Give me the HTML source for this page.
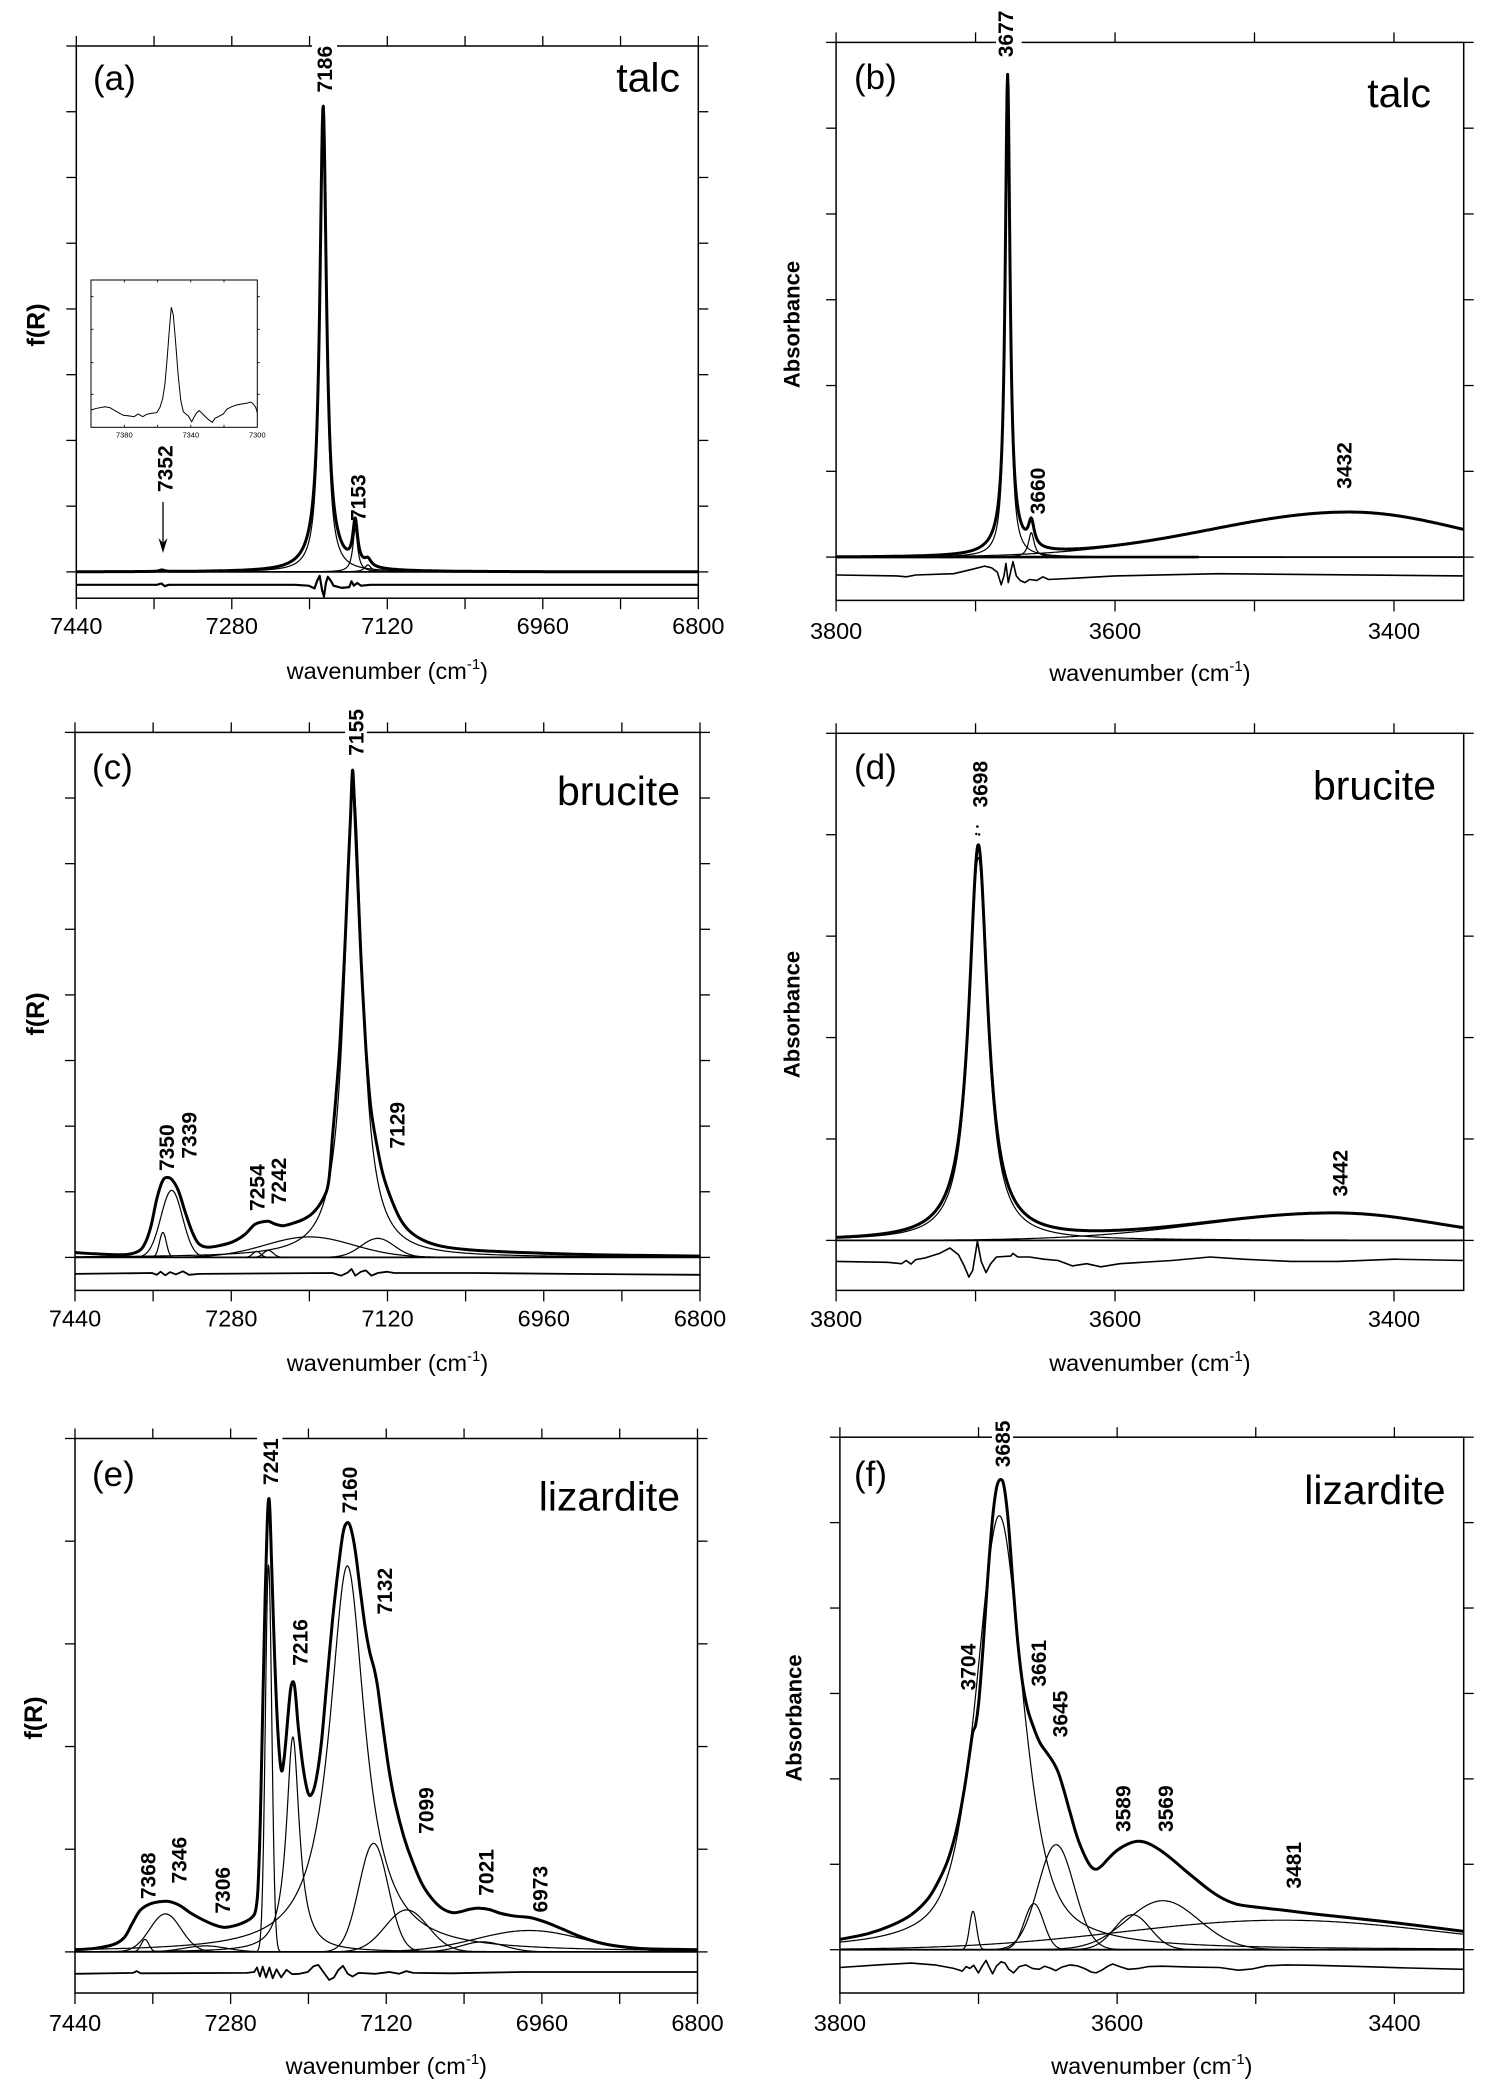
<!DOCTYPE html>
<html><head><meta charset="utf-8">
<style>
html,body{margin:0;padding:0;background:#fff;}
svg{display:block;}
text{font-family:"Liberation Sans",Arial,sans-serif;fill:#000;}
.tl{font-size:23.5px;}
.pk{font-size:21px;font-weight:bold;}
.yt{font-size:22px;font-weight:bold;}
.yf{font-size:25px;font-weight:bold;}
.pl{font-size:35px;}
.nm{font-size:41px;}
.it{font-size:7.5px;}
</style></head><body>
<svg id="s" width="1489" height="2097" viewBox="0 0 1489 2097" xmlns="http://www.w3.org/2000/svg">
<rect width="1489" height="2097" fill="#fff"/>
<g id="g" fill="none" stroke="#000" stroke-linecap="butt"></g>

<!-- inset in (a) -->
<g fill="none" stroke="#000">
<rect x="91" y="280" width="166.3" height="147.3" stroke-width="1"/>
<path id="inset" stroke-width="1" d=""/>
<path stroke-width="0.8" d="M124.3,280v2.5M157.5,280v2.5M190.8,280v2.5M224,280v2.5M124.3,427.3v-2.5M157.5,427.3v-2.5M190.8,427.3v-2.5M224,427.3v-2.5M91,296.7h2.5M91,329.3h2.5M91,362.7h2.5M91,394.3h2.5M257.3,296.7h2.5M257.3,329.3h2.5M257.3,362.7h2.5M257.3,394.3h2.5"/>
<line x1="163" y1="502" x2="163" y2="545" stroke-width="1.3"/>
</g>
<path d="M158.5,538 L163,553 L167.5,538 L163,543 Z" fill="#000"/>
<text class="it" x="124.3" y="437.3" text-anchor="middle">7380</text>
<text class="it" x="190.8" y="437.3" text-anchor="middle">7340</text>
<text class="it" x="257.3" y="437.3" text-anchor="middle">7300</text>

<!-- white backgrounds behind top labels -->
<g fill="#fff">
<rect x="312" y="36" width="25" height="58"/>
<rect x="996" y="10" width="25.7" height="48"/>
<rect x="345" y="708" width="22" height="49"/>
<rect x="257" y="1437" width="25.5" height="49"/>
<rect x="992" y="1420" width="21" height="48"/>
</g>

<!-- tick labels -->
<g class="tl" text-anchor="middle">
<text x="76.3" y="634">7440</text><text x="231.8" y="634">7280</text><text x="387.3" y="634">7120</text><text x="542.8" y="634">6960</text><text x="698.3" y="634">6800</text>
<text x="836.1" y="639">3800</text><text x="1115" y="639">3600</text><text x="1394" y="639">3400</text>
<text x="75" y="1326.5">7440</text><text x="231.3" y="1326.5">7280</text><text x="387.5" y="1326.5">7120</text><text x="543.8" y="1326.5">6960</text><text x="700" y="1326.5">6800</text>
<text x="836.1" y="1327">3800</text><text x="1115" y="1327">3600</text><text x="1394" y="1327">3400</text>
<text x="75" y="2031">7440</text><text x="230.6" y="2031">7280</text><text x="386.3" y="2031">7120</text><text x="541.9" y="2031">6960</text><text x="697.5" y="2031">6800</text>
<text x="839.9" y="2031">3800</text><text x="1117.1" y="2031">3600</text><text x="1394.4" y="2031">3400</text>
</g>
<!-- x titles -->
<g class="tl" text-anchor="middle">
<text x="387.3" y="679">wavenumber (cm<tspan dy="-10" font-size="15">-1</tspan><tspan dy="10">)</tspan></text>
<text x="1149.9" y="681">wavenumber (cm<tspan dy="-10" font-size="15">-1</tspan><tspan dy="10">)</tspan></text>
<text x="387.5" y="1371">wavenumber (cm<tspan dy="-10" font-size="15">-1</tspan><tspan dy="10">)</tspan></text>
<text x="1149.9" y="1371">wavenumber (cm<tspan dy="-10" font-size="15">-1</tspan><tspan dy="10">)</tspan></text>
<text x="386.3" y="2074">wavenumber (cm<tspan dy="-10" font-size="15">-1</tspan><tspan dy="10">)</tspan></text>
<text x="1151.8" y="2074">wavenumber (cm<tspan dy="-10" font-size="15">-1</tspan><tspan dy="10">)</tspan></text>
</g>
<!-- y titles -->
<g class="yf" text-anchor="middle">
<text transform="translate(35.5,325) rotate(-90)" dy="0.36em">f(R)</text>
<text transform="translate(35,1014) rotate(-90)" dy="0.36em">f(R)</text>
<text transform="translate(33,1718) rotate(-90)" dy="0.36em">f(R)</text>
</g>
<g class="yt" text-anchor="middle">
<text transform="translate(791.5,324.5) rotate(-90)" dy="0.36em">Absorbance</text>
<text transform="translate(791.5,1014.5) rotate(-90)" dy="0.36em">Absorbance</text>
<text transform="translate(793.5,1718) rotate(-90)" dy="0.36em">Absorbance</text>
</g>
<!-- panel letters -->
<g class="pl">
<text x="93" y="90">(a)</text>
<text x="854" y="89">(b)</text>
<text x="92" y="779">(c)</text>
<text x="854" y="779">(d)</text>
<text x="92" y="1486">(e)</text>
<text x="854" y="1486">(f)</text>
</g>
<!-- names -->
<g class="nm" text-anchor="end">
<text x="680" y="91.5">talc</text>
<text x="1431" y="107">talc</text>
<text x="680" y="805">brucite</text>
<text x="1436" y="799.5">brucite</text>
<text x="680" y="1510.5">lizardite</text>
<text x="1445.5" y="1504">lizardite</text>
</g>
<!-- peak labels -->
<g class="pk" text-anchor="middle">
<text transform="translate(324.3,69.2) rotate(-90)" dy="0.36em">7186</text>
<text transform="translate(357.9,497.7) rotate(-90)" dy="0.36em">7153</text>
<text transform="translate(165,468.7) rotate(-90)" dy="0.36em">7352</text>

<text transform="translate(1005.5,33.9) rotate(-90)" dy="0.36em">3677</text>
<text transform="translate(1037.5,491) rotate(-90)" dy="0.36em">3660</text>
<text transform="translate(1343.8,465.5) rotate(-90)" dy="0.36em">3432</text>

<text transform="translate(355.8,732.4) rotate(-90)" dy="0.36em">7155</text>
<text transform="translate(166.5,1147.7) rotate(-90)" dy="0.36em">7350</text>
<text transform="translate(188.8,1135.3) rotate(-90)" dy="0.36em">7339</text>
<text transform="translate(256.8,1187.7) rotate(-90)" dy="0.36em">7254</text>
<text transform="translate(278.2,1181) rotate(-90)" dy="0.36em">7242</text>
<text transform="translate(396.7,1125.3) rotate(-90)" dy="0.36em">7129</text>

<text transform="translate(979.9,784.2) rotate(-90)" dy="0.36em">3698</text>
<text transform="translate(1339.7,1173.3) rotate(-90)" dy="0.36em">3442</text>

<text transform="translate(270.3,1461.7) rotate(-90)" dy="0.36em">7241</text>
<text transform="translate(349.5,1490) rotate(-90)" dy="0.36em">7160</text>
<text transform="translate(384.3,1591.2) rotate(-90)" dy="0.36em">7132</text>
<text transform="translate(299.8,1642.4) rotate(-90)" dy="0.36em">7216</text>
<text transform="translate(425.9,1810.5) rotate(-90)" dy="0.36em">7099</text>
<text transform="translate(147.8,1875.8) rotate(-90)" dy="0.36em">7368</text>
<text transform="translate(178.8,1860.2) rotate(-90)" dy="0.36em">7346</text>
<text transform="translate(222.3,1890.3) rotate(-90)" dy="0.36em">7306</text>
<text transform="translate(486,1872.4) rotate(-90)" dy="0.36em">7021</text>
<text transform="translate(539.9,1889.2) rotate(-90)" dy="0.36em">6973</text>

<text transform="translate(1002.3,1443.9) rotate(-90)" dy="0.36em">3685</text>
<text transform="translate(967.9,1667.1) rotate(-90)" dy="0.36em">3704</text>
<text transform="translate(1038.4,1663.3) rotate(-90)" dy="0.36em">3661</text>
<text transform="translate(1060,1714) rotate(-90)" dy="0.36em">3645</text>
<text transform="translate(1122.8,1808.7) rotate(-90)" dy="0.36em">3589</text>
<text transform="translate(1165.5,1808.7) rotate(-90)" dy="0.36em">3569</text>
<text transform="translate(1293.6,1865.3) rotate(-90)" dy="0.36em">3481</text>
</g>
<g fill="#000">
<circle cx="977.4" cy="826.5" r="1.3"/><circle cx="976.3" cy="834" r="1.2"/><circle cx="979.2" cy="834.5" r="1.2"/>
</g>
</svg>
<script>
(function(){
var NS='http://www.w3.org/2000/svg';
var G=document.getElementById('g');
function add(tag,a){var e=document.createElementNS(NS,tag);for(var k in a)e.setAttribute(k,a[k]);G.appendChild(e);return e;}
function line(x1,y1,x2,y2,w){add('line',{x1:x1,y1:y1,x2:x2,y2:y2,'stroke-width':w||1.3});}
var P={
a:{L:76.3,R:698.3,T:46,B:598.2,base:571.9,w0:7440,w1:6800,ny:8,xt:80},
b:{L:836.1,R:1463.7,T:42.4,B:600.4,base:557.1,w0:3800,w1:3350,ny:6,xt:100},
c:{L:75,R:700,T:732.4,B:1290.4,base:1257.4,w0:7440,w1:6800,ny:8,xt:80},
d:{L:836.1,R:1463.7,T:733.3,B:1290.4,base:1240.4,w0:3800,w1:3350,ny:5,xt:100},
e:{L:75,R:697.5,T:1438.5,B:1993,base:1951.9,w0:7440,w1:6800,ny:5,xt:80},
f:{L:839.9,R:1463.7,T:1437.2,B:1993,base:1949.7,w0:3800,w1:3350,ny:6,xt:100}
};
function X(p,w){return p.L+(p.w0-w)*(p.R-p.L)/(p.w0-p.w1);}
for(var k in P){var p=P[k];
 add('rect',{x:p.L,y:p.T,width:p.R-p.L,height:p.B-p.T,'stroke-width':1.5});
 for(var i=0;i<=p.ny;i++){var y=p.T+(p.base-p.T)*i/p.ny;line(p.L-10,y,p.L,y);line(p.R,y,p.R+10,y);}
 for(var w=p.w0;w>=p.w1-0.01;w-=p.xt){var x=X(p,w);line(x,p.T-10,x,p.T);line(x,p.B,x,p.B+11);}
 line(p.L,p.base,p.R,p.base,1.8);
}
function Lo(A,c,g){return function(w){var t=(w-c)/g;return A/(1+t*t);};}
function Ga(A,c,s){return function(w){return A*Math.exp(-(w-c)*(w-c)/(2*s*s));};}
function GA(A,c,sl,sr){return function(w){var s=w>c?sl:sr;return A*Math.exp(-(w-c)*(w-c)/(2*s*s));};}
function PV(A,c,g,s,e){return function(w){var t=(w-c)/g;return A*(e/(1+t*t)+(1-e)*Math.exp(-(w-c)*(w-c)/(2*s*s)));};}
function sum(fs){return function(w){var a=0;for(var i=0;i<fs.length;i++)a+=fs[i](w);return a;};}
function fpath(p,f,sw){var d='';var n=Math.round((p.R-p.L)*2);for(var i=0;i<=n;i++){var x=p.L+i*(p.R-p.L)/n;var wn=p.w0-(x-p.L)*(p.w0-p.w1)/(p.R-p.L);var y=p.base-f(wn);d+=(i?'L':'M')+x.toFixed(1)+','+y.toFixed(1);}add('path',{d:d,'stroke-width':sw,'stroke-linejoin':'round'});}
function zp(arr,ox,oy,sx){return arr.map(function(a){return [ox+a[0]/sx,oy+a[1]/2.24];});}
function poly(pts,sw){add('path',{d:'M'+pts.map(function(q){return q[0].toFixed(1)+','+q[1].toFixed(1);}).join('L'),'stroke-width':sw,'stroke-linejoin':'round'});}
function smooth(pts,sw){var d='M'+pts[0][0].toFixed(1)+','+pts[0][1].toFixed(1);
 for(var i=0;i<pts.length-1;i++){var p0=pts[i-1]||pts[i],p1=pts[i],p2=pts[i+1],p3=pts[i+2]||pts[i+1];
 var c1x=p1[0]+(p2[0]-p0[0])/6,c1y=p1[1]+(p2[1]-p0[1])/6,c2x=p2[0]-(p3[0]-p1[0])/6,c2y=p2[1]-(p3[1]-p1[1])/6;
 d+='C'+c1x.toFixed(1)+','+c1y.toFixed(1)+' '+c2x.toFixed(1)+','+c2y.toFixed(1)+' '+p2[0].toFixed(1)+','+p2[1].toFixed(1);}
 add('path',{d:d,'stroke-width':sw,'stroke-linejoin':'round'});}
var TH=1.2,TK=3;

// (a)
var a=P.a;
var a1=Lo(440,7186,4),a2=Lo(43,7153,3),a3=Lo(7,7140,4);
[a1,a2,a3].forEach(function(f){fpath(a,f,TH);});
fpath(a,sum([a1,a2,a3,Lo(26,7186,14),Lo(1.5,7352,3)]),TK);
poly(zp([[160,1310],[330,1310],[340,1307],[347,1313],[355,1310],[620,1310],[650,1312],[662,1318],[668,1300],[673,1290],[678,1322],[682,1336],[686,1306],[690,1292],[696,1300],[702,1312],[720,1317],[735,1315],[740,1302],[745,1312],[752,1306],[760,1312],[780,1310],[1470,1310]],0,0,2.105),2.2);

// (b)
var b=P.b;
var b1=Lo(462,3677,2.05),b2=Lo(24.5,3660,2.5),b3=GA(45,3432,100,83);
[b1,b2,b3].forEach(function(f){fpath(b,f,TH);});
fpath(b,sum([b1,b2,b3,Lo(18,3677,10)]),TK);
line(b.L,b.base,X(b,3540),b.base,2.6);
poly(zp([[192,1288],[320,1290],[340,1292],[360,1288],[440,1285],[480,1275],[505,1268],[520,1272],[532,1282],[540,1310],[546,1290],[550,1262],[555,1305],[560,1280],[565,1258],[572,1290],[580,1300],[590,1305],[600,1298],[615,1300],[628,1292],[640,1298],[700,1295],[780,1290],[1000,1285],[1200,1287],[1515,1290]],745,0,2.108),1.6);

// (c)
var c=P.c;
[Ga(25,7350,3.5),Ga(67,7341,11),Ga(6,7254,4),Ga(7,7242,5),Ga(20.5,7200,45),Lo(470,7155,11),Ga(19,7130,17)].forEach(function(f){fpath(c,f,TH);});
smooth(zp([[157,1260],[200,1263],[260,1265],[290,1258],[305,1240],[318,1200],[330,1140],[342,1100],[352,1092],[362,1097],[375,1120],[390,1170],[405,1215],[418,1240],[435,1248],[460,1245],[490,1236],[515,1220],[535,1198],[550,1192],[565,1190],[578,1196],[595,1200],[615,1195],[640,1185],[660,1170],[680,1140],[692,1100],[700,1000],[708,900],[715,800],[725,600],[733,400],[738,280],[742,180],[746,250],[752,400],[760,600],[770,800],[780,930],[790,1000],[805,1080],[820,1130],[840,1180],[860,1210],[890,1232],[930,1246],[1000,1255],[1100,1260],[1250,1265],[1475,1268]],0,690,2.105),TK);
poly(zp([[157,1308],[320,1306],[330,1310],[338,1303],[348,1311],[358,1304],[370,1309],[385,1302],[398,1310],[420,1308],[700,1306],[718,1312],[732,1305],[740,1297],[748,1312],[760,1303],[770,1300],[782,1312],[795,1306],[815,1303],[830,1306],[1000,1306],[1200,1308],[1475,1310]],0,690,2.105),1.8);

// (d)
var d=P.d;
var d1=Lo(383,3698,8),d2=GA(27,3442,95,74);
[d1,d2].forEach(function(f){fpath(d,f,TH);});
fpath(d,sum([d1,d2,Lo(12,3698,25)]),TK);
poly(zp([[192,1280],[300,1282],[330,1285],[340,1278],[350,1286],[360,1276],[380,1272],[410,1262],[432,1250],[450,1265],[462,1290],[472,1315],[480,1300],[490,1235],[498,1280],[508,1305],[518,1285],[530,1270],[560,1268],[565,1262],[575,1270],[600,1270],[630,1275],[660,1278],[690,1290],[720,1285],[750,1292],[790,1285],[820,1283],[900,1278],[980,1270],[1050,1275],[1150,1280],[1250,1280],[1370,1275],[1515,1278]],745,690,2.108),1.6);

// (e)
var e=P.e;
[Ga(12.5,7368,4),Ga(38,7347,16),Ga(6,7306,22),Ga(387,7241,3.3),Lo(215,7216,8),Lo(386,7160,22),Ga(108.5,7133,15),Ga(42,7099,22),Ga(10,7021,22),Ga(21.4,6973,55)].forEach(function(f){fpath(e,f,TH);});
smooth(zp([[157,1238],[200,1235],[240,1226],[262,1210],[278,1180],[295,1150],[315,1136],[340,1130],[360,1131],[380,1140],[400,1155],[425,1170],[450,1182],[472,1188],[495,1184],[515,1176],[530,1166],[538,1150],[543,1100],[548,950],[553,700],[558,450],[562,300],[565,232],[568,250],[572,380],[578,580],[585,750],[592,835],[598,810],[605,730],[611,660],[616,638],[621,655],[628,740],[638,830],[648,885],[656,890],[665,860],[676,780],[688,640],[700,500],[712,385],[722,305],[730,282],[738,292],[748,345],[758,430],[768,510],[778,570],[788,610],[795,650],[805,730],[818,830],[832,910],[850,985],[868,1040],[888,1090],[908,1122],[930,1145],[952,1155],[970,1153],[990,1147],[1010,1145],[1030,1148],[1055,1157],[1085,1163],[1115,1166],[1145,1175],[1180,1190],[1220,1208],[1260,1222],[1300,1230],[1360,1236],[1468,1238]],0,1397,2.105),TK);
poly(zp([[157,1292],[280,1290],[288,1286],[296,1291],[520,1290],[535,1288],[541,1278],[547,1298],[553,1276],[560,1300],[567,1278],[574,1302],[582,1282],[592,1300],[603,1283],[615,1293],[630,1292],[648,1288],[660,1275],[670,1272],[682,1290],[693,1306],[703,1300],[712,1284],[722,1274],[732,1292],[742,1298],[755,1290],[790,1292],[820,1288],[840,1292],[855,1286],[870,1290],[950,1291],[1100,1288],[1300,1288],[1468,1288]],0,1397,2.105),1.8);

// (f)
var f=P.f;
[Ga(38.4,3704,2.5),PV(434,3685,20,17,0.6),Ga(46,3660,7),Ga(105,3644,13),Ga(35,3589,13),Ga(49,3567,26),Ga(29.5,3481,115)].forEach(function(g){fpath(f,g,TH);});
smooth(zp([[200,1215],[260,1202],[310,1183],[350,1160],[385,1125],[410,1080],[430,1030],[448,960],[462,880],[472,810],[480,752],[486,735],[493,680],[502,560],[512,400],[522,270],[530,205],[538,185],[546,200],[555,280],[565,420],[575,550],[585,640],[596,700],[610,745],[622,775],[635,795],[648,815],[660,840],[672,880],[685,930],[700,985],[715,1025],[728,1050],[740,1058],[752,1050],[765,1035],[785,1015],[810,1000],[830,995],[850,1000],[875,1015],[900,1035],[925,1058],[950,1080],[980,1105],[1010,1125],[1040,1137],[1080,1143],[1130,1149],[1200,1158],[1270,1166],[1340,1174],[1420,1184],[1515,1197]],745,1397,2.108),TK);
poly(zp([[200,1278],[280,1272],[350,1268],[400,1272],[440,1280],[458,1286],[466,1276],[474,1280],[482,1273],[492,1290],[500,1275],[508,1262],[516,1280],[522,1292],[530,1275],[540,1265],[548,1268],[556,1282],[566,1290],[578,1276],[592,1272],[606,1280],[620,1282],[632,1275],[645,1280],[655,1285],[668,1277],[685,1272],[700,1274],[715,1280],[730,1288],[740,1290],[752,1284],[765,1275],[775,1270],[790,1276],[808,1282],[830,1280],[850,1276],[880,1275],[940,1277],[1000,1278],[1040,1284],[1070,1281],[1100,1274],[1140,1272],[1200,1273],[1300,1276],[1400,1279],[1515,1282]],745,1397,2.108),1.6);

// inset
var ins=[[243,420],[260,415],[285,410],[300,413],[320,425],[340,436],[360,438],[372,440],[385,432],[398,440],[410,433],[425,430],[440,428],[450,412],[458,385],[465,340],[472,260],[478,180],[484,112],[490,135],[497,220],[504,310],[512,390],[520,425],[535,438],[545,455],[552,442],[560,428],[568,422],[578,432],[590,444],[600,452],[607,457],[615,445],[625,440],[640,432],[650,418],[665,410],[680,405],[695,402],[710,400],[722,396],[730,402],[737,412],[742,428]];
document.getElementById('inset').setAttribute('d','M'+ins.map(function(q){return (10+q[0]/3).toFixed(1)+','+(270+q[1]/3).toFixed(1);}).join('L'));
})();
</script>
</body></html>
